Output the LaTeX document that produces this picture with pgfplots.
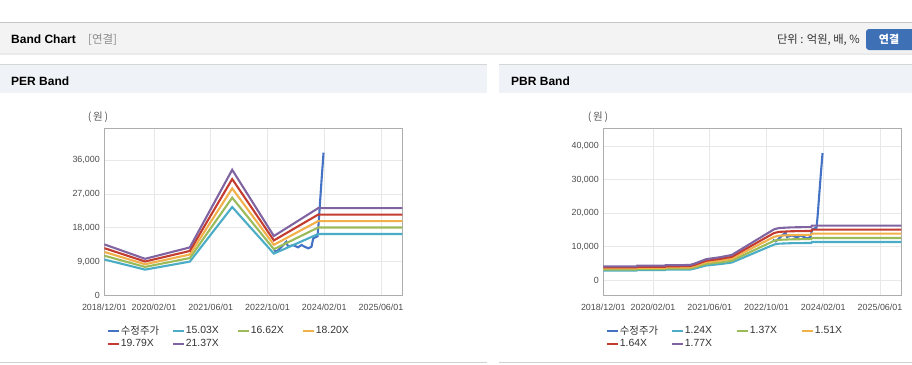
\documentclass[border=0pt]{standalone}
\usepackage{pgfplots}
\usepackage{pgfplotstable}
\pgfplotsset{compat=1.18}
\usepackage{fontspec}
\setmainfont{Liberation Sans}
\newfontfamily\kr{Noto Sans CJK KR}
\definecolor{cPrice}{HTML}{4472C4}
\definecolor{cB1}{HTML}{4BACC6}
\definecolor{cB2}{HTML}{9BBB59}
\definecolor{cB3}{HTML}{F2B04A}
\definecolor{cB4}{HTML}{C43C30}
\definecolor{cB5}{HTML}{8064A2}
\definecolor{hdrbg}{HTML}{F3F3F3}
\definecolor{barbg}{HTML}{EFF2F7}
\definecolor{btn}{HTML}{3E70B6}

% months since 2018/12/01
\pgfplotstableread{
m     b1     b2     b3     b4     b5
0     9544   10554  11557  12567  13570
11.5  6839   7562   8281   9004   9723
24.1  8973   9922   10865  11815  12758
36.05 23522  26010  28483  30971  33444
47.8  11107  12282  13450  14625  15792
60.3  16338  18066  19783  21512  23229
84    16338  18066  19783  21512  23229
}\perdata

\pgfplotstableread{
m     b1     b2     b3     b4     b5
0     2908   3213   3541   3846   4151
9.4   2908   3213   3541   3846   4151
9.5   3048   3367   3712   4031   4351
17.4  3048   3367   3712   4031   4351
17.5  3152   3483   3838   4169   4499
24.4  3188   3522   3882   4216   4551
25.8  3503   3870   4266   4633   5000
29    4413   4876   5374   5837   6299
33    4834   5340   5886   6393   6899
36.2  5290   5844   6442   6996   7551
48.1  10649  11766  12968  14084  15201
49.5  10929  12075  13309  14455  15601
53    11069  12230  13480  14640  15801
58.6  11139  12307  13564  14732  15900
58.8  11433  12631  13922  15121  16319
84    11433  12631  13922  15121  16319
}\pbrdata

\pgfplotstableread{
m     p
47.8  12063
48.6  11610
50.0  12942
50.9  13848
51.3  14250
51.8  12950
53.2  13395
54.6  12782
55.6  13395
56.5  12942
57.5  12516
58.4  12942
58.9  15179
59.8  15605
60.1  15700
60.4  19000
60.9  26000
61.3  31500
61.8  38000
}\pricedata

\pgfplotsset{
  bandaxis/.style={
    scale only axis, width=298pt, height=167pt,
    xmin=0, xmax=84,
    xtick={0,14,30,46,62,78},
    xticklabels={2018/12/01,2020/02/01,2021/06/01,2022/10/01,2024/02/01,2025/06/01},
    grid=major, grid style={draw=black!9, line width=0.8pt},
    axis line style={draw=black!32, line width=0.9pt},
    major tick length=0pt,
    tick label style={font=\fontsize{8.9}{10}\selectfont, text=black!70},
    xticklabel style={yshift=-5pt},
    yticklabel style={xshift=-1pt},
    scaled y ticks=false,
    /pgf/number format/1000 sep={,},
    /pgf/number format/assume math mode=true,
    legend columns=4,
    legend cell align=left,
    legend style={draw=none, fill=none, at={(0.008,-0.175)}, anchor=north west,
      inner sep=0pt, row sep=1.5pt, font=\fontsize{10.4}{12}\selectfont, text=black!80,
      nodes={inner sep=1pt},
      /tikz/every even column/.append style={text width=50pt}},
    legend image code/.code={\draw[##1, line width=2pt] (0pt,0pt) -- (11pt,0pt);},
    every axis plot/.append style={line width=2.1pt, mark=none},
  }
}

\begin{document}
\begin{tikzpicture}[x=1pt,y=-1pt]
\useasboundingbox (0,0) rectangle (912,364);
% header
\fill[hdrbg] (0,22.5) rectangle (912,53);
\draw[black!22, line width=1pt] (0,22.5) -- (912,22.5);
\fill[black!8] (0,53) rectangle (912,54.5);
\node[anchor=base west, font=\fontsize{12}{14}\selectfont\bfseries, inner sep=0pt] at (11,43) {Band Chart};
\node[anchor=base west, font=\kr\fontsize{11.5}{13}\selectfont, text=black!45, inner sep=0pt] at (88,43) {[연결]};
\node[anchor=base east, font=\kr\fontsize{11.3}{13}\selectfont, text=black!80, inner sep=0pt] at (860,43.5) {단위 : 억원, 배, \%};
\fill[btn, rounded corners=3pt] (866,29) rectangle (918,50);
\node[font=\kr\fontsize{11}{12}\selectfont\bfseries, text=white, inner sep=0pt] at (889,39.5) {연결};
% panel bars
\fill[barbg] (0,64) rectangle (487,93);
\draw[black!16, line width=1pt] (0,64) -- (487,64);
\fill[barbg] (499,64) rectangle (912,93);
\draw[black!16, line width=1pt] (499,64) -- (912,64);
\node[anchor=base west, font=\fontsize{12}{14}\selectfont\bfseries, inner sep=0pt] at (11,85) {PER Band};
\node[anchor=base west, font=\fontsize{12}{14}\selectfont\bfseries, inner sep=0pt] at (511,85) {PBR Band};
\draw[black!18, line width=1pt] (0,362.5) -- (487,362.5);
\draw[black!18, line width=1pt] (499,362.5) -- (912,362.5);
% y unit labels
\node[font=\kr\fontsize{10.5}{12}\selectfont, text=black!65] at (98,117) {(\,원\,)};
\node[font=\kr\fontsize{10.5}{12}\selectfont, text=black!65] at (598,117) {(\,원\,)};

\begin{axis}[bandaxis, at={(104.3pt,-128.3pt)}, anchor=north west,
  ymin=0, ymax=44500, ytick={0,9000,18000,27000,36000}]
\addplot[cPrice] table[x=m,y=p] {\pricedata};
\addlegendentry{{\kr 수정주가}}
\addplot[cB1] table[x=m,y=b1] {\perdata};
\addlegendentry{15.03X}
\addplot[cB2] table[x=m,y=b2] {\perdata};
\addlegendentry{16.62X}
\addplot[cB3] table[x=m,y=b3] {\perdata};
\addlegendentry{18.20X}
\addplot[cB4] table[x=m,y=b4] {\perdata};
\addlegendentry{19.79X}
\addplot[cB5] table[x=m,y=b5] {\perdata};
\addlegendentry{21.37X}
\end{axis}

\begin{axis}[bandaxis, at={(603.3pt,-128.3pt)}, anchor=north west,
  ymin=-4500, ymax=45400, ytick={0,10000,20000,30000,40000}]
\addplot[cPrice] table[x=m,y=p] {\pricedata};
\addlegendentry{{\kr 수정주가}}
\addplot[cB1] table[x=m,y=b1] {\pbrdata};
\addlegendentry{1.24X}
\addplot[cB2] table[x=m,y=b2] {\pbrdata};
\addlegendentry{1.37X}
\addplot[cB3] table[x=m,y=b3] {\pbrdata};
\addlegendentry{1.51X}
\addplot[cB4] table[x=m,y=b4] {\pbrdata};
\addlegendentry{1.64X}
\addplot[cB5] table[x=m,y=b5] {\pbrdata};
\addlegendentry{1.77X}
\end{axis}
\end{tikzpicture}
\end{document}
